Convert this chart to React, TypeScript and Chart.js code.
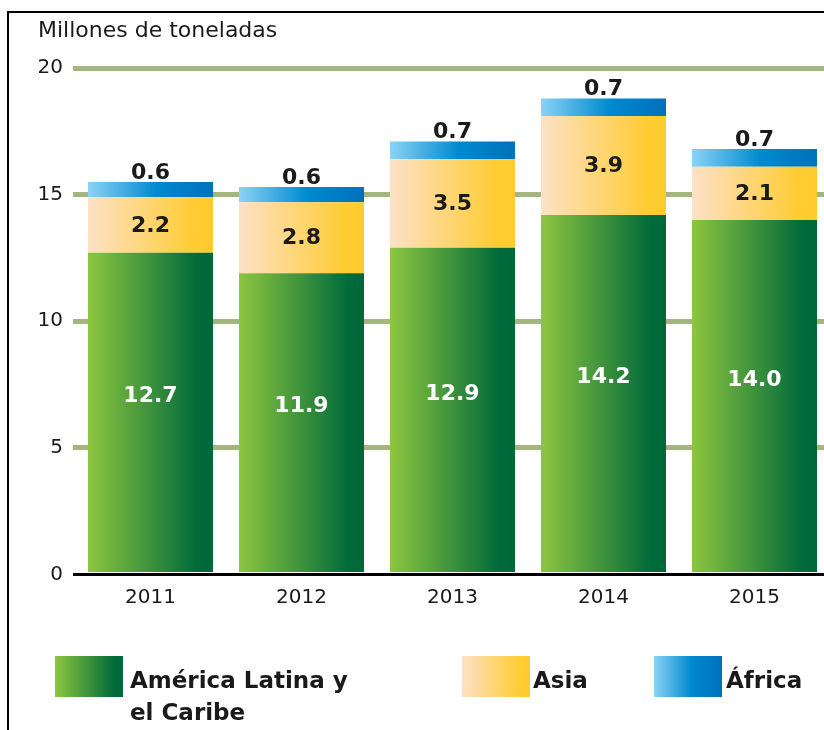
import React, { useEffect, useRef } from "react";
import { Chart, registerables } from "chart.js";

Chart.register(...registerables);

const years = ["2011", "2012", "2013", "2014", "2015"];
const latam = [12.7, 11.9, 12.9, 14.2, 14.0];
const asia = [2.2, 2.8, 3.5, 3.9, 2.1];
const africa = [0.6, 0.6, 0.7, 0.7, 0.7];
const yTicks = [0, 5, 10, 15, 20];
const seriesNames = ["América Latina y el Caribe", "Asia", "África"];
const axisTitle = "Millones de toneladas";

const BAR_PCT = 0.828;
const FONT = "'DejaVu Sans', sans-serif";

const greenStops: [number, string][] = [[0, "#8dc63f"], [0.88, "#006a3a"], [1, "#006838"]];
const asiaStops: [number, string][] = [[0, "#fde1c6"], [0.85, "#ffcc33"], [1, "#ffcc2e"]];
const africaStops: [number, string][] = [[0, "#8ad3f6"], [0.55, "#0089cf"], [1, "#0071bb"]];

function cssGrad(stops: [number, string][]) {
  return "linear-gradient(to right, " + stops.map(([o, c]) => `${c} ${o * 100}%`).join(", ") + ")";
}

function gradFill(stops: [number, string][]) {
  return (ctx: any) => {
    const chart = ctx.chart;
    const xs = chart.scales && chart.scales.x;
    if (!xs || ctx.dataIndex == null || !chart.chartArea) return stops[stops.length - 1][1];
    const cx = xs.getPixelForValue(ctx.dataIndex);
    const w = (xs.width / years.length) * BAR_PCT;
    const g = chart.ctx.createLinearGradient(cx - w / 2, 0, cx + w / 2, 0);
    stops.forEach(([o, c]) => g.addColorStop(o, c));
    return g;
  };
}

const overlayPlugin = {
  id: "overlay",
  afterDatasetsDraw(chart: any) {
    const ctx = chart.ctx;
    const ys = chart.scales.y;
    const area = chart.chartArea;
    // zero line
    const y0 = ys.getPixelForValue(0);
    ctx.save();
    ctx.strokeStyle = "#000";
    ctx.lineWidth = 3;
    ctx.beginPath();
    ctx.moveTo(area.left - 2, y0);
    ctx.lineTo(chart.width, y0);
    ctx.stroke();

    // labels
    ctx.font = `bold 22px ${FONT}`;
    ctx.textAlign = "center";
    chart.data.datasets.forEach((ds: any, di: number) => {
      const meta = chart.getDatasetMeta(di);
      meta.data.forEach((el: any, i: number) => {
        const v = ds.data[i];
        const txt = v.toFixed(1);
        if (di === 2) {
          ctx.fillStyle = "#1a1a1a";
          ctx.textBaseline = "alphabetic";
          ctx.fillText(txt, el.x, el.y - 3);
        } else if (di === 0) {
          ctx.fillStyle = "#ffffff";
          ctx.textBaseline = "middle";
          ctx.fillText(txt, el.x, (el.y + el.base) / 2 - 16);
        } else {
          ctx.fillStyle = "#1a1a1a";
          ctx.textBaseline = "middle";
          ctx.fillText(txt, el.x, (el.y + el.base) / 2 + 1);
        }
      });
    });

    // axis title
    ctx.font = `22px ${FONT}`;
    ctx.textAlign = "left";
    ctx.textBaseline = "alphabetic";
    ctx.fillStyle = "#1a1a1a";
    ctx.fillText(axisTitle, 38, 37);
    ctx.restore();
  },
};

export default function App() {
  const ref = useRef<HTMLCanvasElement>(null);

  useEffect(() => {
    if (!ref.current) return;
    const chart = new Chart(ref.current, {
      type: "bar",
      data: {
        labels: years,
        datasets: [
          { label: seriesNames[0], data: latam, backgroundColor: gradFill(greenStops), borderWidth: 0 },
          { label: seriesNames[1], data: asia, backgroundColor: gradFill(asiaStops), borderWidth: 0 },
          { label: seriesNames[2], data: africa, backgroundColor: gradFill(africaStops), borderWidth: 0 },
        ],
      },
      options: {
        responsive: false,
        animation: false,
        layout: { padding: { top: 68, right: 20, left: 0, bottom: 0 } },
        datasets: { bar: { categoryPercentage: 1, barPercentage: BAR_PCT } },
        plugins: { legend: { display: false }, tooltip: { enabled: false }, title: { display: false } },
        scales: {
          x: {
            stacked: true,
            grid: { display: false },
            border: { display: false },
            ticks: { font: { family: FONT, size: 20 }, color: "#1a1a1a", padding: 3 },
            afterFit: (s: any) => {
              s.height = 730 - 574.5;
            },
          },
          y: {
            stacked: true,
            min: 0,
            max: 20,
            afterBuildTicks: (s: any) => {
              s.ticks = yTicks.map((v) => ({ value: v }));
            },
            grid: {
              color: (c: any) => (c.tick && c.tick.value === 0 ? "rgba(0,0,0,0)" : "#a3b67f"),
              lineWidth: 5,
              drawTicks: true,
              tickLength: 2,
            },
            border: { display: false },
            ticks: { font: { family: FONT, size: 20 }, color: "#1a1a1a", padding: 10 },
            afterFit: (s: any) => {
              s.width = 75;
            },
          },
        },
      },
      plugins: [overlayPlugin],
    });
    return () => chart.destroy();
  }, []);

  const sw = (left: number, stops: [number, string][]) => (
    <div style={{ position: "absolute", left, top: 656, width: 68, height: 41, background: cssGrad(stops) }} />
  );
  const txt: React.CSSProperties = {
    position: "absolute",
    top: 664,
    fontFamily: FONT,
    fontWeight: "bold",
    fontSize: 23,
    lineHeight: "32px",
    color: "#1a1a1a",
    whiteSpace: "nowrap",
  };

  return (
    <div style={{ position: "fixed", left: 0, top: 0, width: 824, height: 730, overflow: "hidden", background: "#fff" }}>
      <canvas ref={ref} width={850} height={730} style={{ position: "absolute", left: 0, top: 0, width: 850, height: 730 }} />
      <div style={{ position: "absolute", left: 7, top: 11, width: 900, height: 800, borderLeft: "2px solid #000", borderTop: "2px solid #000", pointerEvents: "none" }} />
      {sw(55, greenStops)}
      <div style={{ ...txt, left: 130 }}>
        América Latina y
        <br />
        el Caribe
      </div>
      {sw(462, asiaStops)}
      <div style={{ ...txt, left: 533 }}>{seriesNames[1]}</div>
      {sw(654, africaStops)}
      <div style={{ ...txt, left: 726 }}>{seriesNames[2]}</div>
    </div>
  );
}
